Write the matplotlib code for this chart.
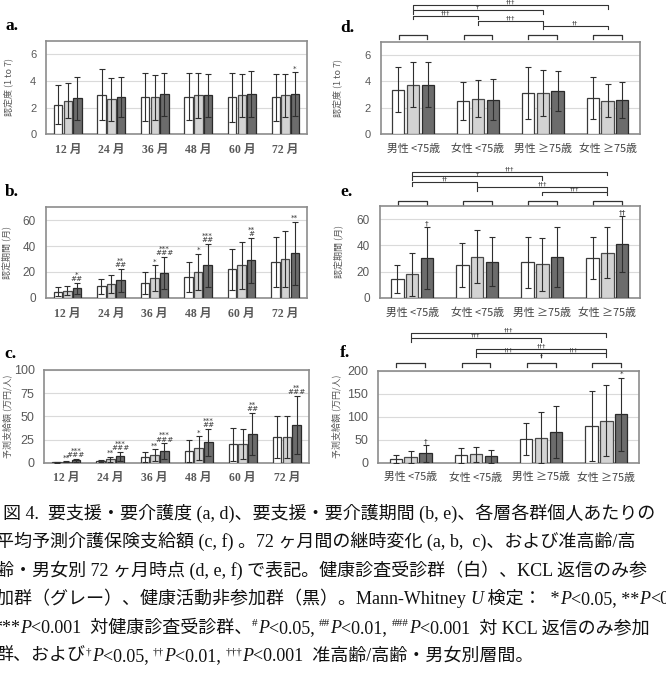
import numpy as np
import matplotlib
matplotlib.use("Agg")
import matplotlib.pyplot as plt

plt.rcParams['font.family'] = ['Noto Sans CJK JP', 'DejaVu Sans']

months = ["12 月", "24 月", "36 月", "48 月", "60 月", "72 月"]
strata = ["男性 <75歳", "女性 <75歳", "男性 ≥75歳", "女性 ≥75歳"]

# rows: 健診受診群 (白), KCL返信のみ (グレー), 健康活動非参加群 (黒)
a_mean = [[2.2, 2.95, 2.8, 2.8, 2.75, 2.75],
          [2.5, 2.6, 2.75, 2.9, 2.9, 2.9],
          [2.7, 2.8, 3.0, 2.9, 3.0, 3.0]]
a_sd = [[1.45, 1.9, 1.8, 1.75, 1.8, 1.75],
        [1.3, 1.6, 1.65, 1.7, 1.6, 1.6],
        [1.6, 1.5, 1.6, 1.6, 1.7, 1.65]]

b_mean = [[4.5, 8.9, 11.7, 16, 22, 27.8],
          [5.5, 10.5, 15, 20, 25, 30],
          [7.2, 13.5, 19.4, 25, 29, 34.5]]
b_sd = [[3.5, 5.8, 8.5, 11.6, 15.8, 19.5],
        [3.3, 7.2, 10, 14, 18, 22],
        [4.5, 8.7, 12.5, 16.6, 17.5, 24.5]]

c_mean = [[0.5, 2.0, 5.8, 12.6, 19.8, 27.3],
          [1.0, 3.5, 8.3, 15.8, 20.5, 27.3],
          [2.5, 7.0, 12.6, 22, 31, 40.6]]
c_sd = [[0.5, 1.0, 5.2, 12.4, 18, 22.7],
        [0.8, 3.0, 6.1, 13, 16, 22.7],
        [1.5, 5.0, 8.4, 14.7, 23, 31.7]]

d_mean = [[3.35, 2.5, 3.1, 2.75],
          [3.75, 2.7, 3.1, 2.55],
          [3.75, 2.6, 3.25, 2.6]]
d_sd = [[1.7, 1.45, 1.95, 1.6],
        [1.7, 1.4, 1.75, 1.25],
        [1.7, 1.55, 1.5, 1.35]]

e_mean = [[14.3, 25, 27, 30],
          [18, 31.4, 25.5, 34.2],
          [30.1, 27.6, 31, 41]]
e_sd = [[11, 16.6, 19.5, 16],
        [16.5, 20, 20, 19.5],
        [23.5, 18.8, 23, 21.6]]

f_mean = [[8.7, 16, 51.4, 79.7],
          [12.3, 18, 54.3, 91.3],
          [20, 13.8, 67.4, 105]]
f_sd = [[9, 16, 34, 77],
        [12.7, 17, 56, 77],
        [18, 14.5, 56.5, 80]]

# significance marks above single bars: (group, bar) -> text
a_marks = {(5, 2): "*"}
b_marks = {(0, 2): "*\n##", (1, 2): "**\n##", (2, 1): "*", (2, 2): "***\n###",
           (3, 1): "*", (3, 2): "***\n##", (4, 2): "**\n#", (5, 2): "**"}
c_marks = {(0, 1): "**", (0, 2): "***\n###", (1, 1): "**", (1, 2): "***\n###",
           (2, 1): "**", (2, 2): "***\n###", (3, 1): "*", (3, 2): "***\n##",
           (4, 2): "**\n##", (5, 2): "**\n###"}
d_marks = {}
e_marks = {(0, 2): "†", (3, 2): "††"}
f_marks = {(0, 2): "†", (3, 2): "*"}

# between-strata comparisons
d_pairs = [(0, 3, "†††"), (0, 2, "†"), (0, 1, "†††"), (1, 2, "†††"), (2, 3, "††")]
e_pairs = [(0, 3, "†††"), (0, 2, "†"), (0, 1, "††"), (1, 3, "†††"), (2, 3, "†††")]
f_pairs = [(0, 3, "†††"), (0, 2, "†††"), (1, 3, "†††"), (1, 2, "†††"), (2, 3, "†††")]

# caption, split in runs: n = normal, i = italic, s = superscript
caption = [
    [("図 4.  要支援・要介護度 (a, d)、要支援・要介護期間 (b, e)、各層各群個人あたりの", 'n')],
    [("平均予測介護保険支給額 (c, f) 。72 ヶ月間の継時変化 (a, b,  c)、および准高齢/高", 'n')],
    [("齢・男女別 72 ヶ月時点 (d, e, f) で表記。健康診査受診群（白）、KCL 返信のみ参", 'n')],
    [("加群（グレー）、健康活動非参加群（黒）。Mann-Whitney ", 'n'), ("U", 'i'),
     (" 検定：  *", 'n'), ("P", 'i'), ("<0.05, **", 'n'), ("P", 'i'), ("<0.01", 'n')],
    [("***", 'n'), ("P", 'i'), ("<0.001  対健康診査受診群、", 'n'), ("#", 's'), ("P", 'i'),
     ("<0.05, ", 'n'), ("##", 's'), ("P", 'i'), ("<0.01, ", 'n'), ("###", 's'), ("P", 'i'),
     ("<0.001  対 KCL 返信のみ参加", 'n')],
    [("群、および", 'n'), ("†", 's'), ("P", 'i'), ("<0.05, ", 'n'), ("††", 's'), ("P", 'i'),
     ("<0.01, ", 'n'), ("†††", 's'), ("P", 'i'), ("<0.001  准高齢/高齢・男女別層間。", 'n')],
]

fills = ['white', '#d3d3d3', '#6c6c6c']
edges = ['#3a3a3a', '#4a4a4a', '#2a2a2a']
serif_cjk = ['Liberation Serif', 'Noto Sans CJK JP']


def draw_bars(ax, labels, means, sds, marks, width, step, ymax, yticks, ylabel, lab_x, tick_fs):
    x = np.arange(len(labels))
    for k in range(3):
        pos = x + (k - 1) * step
        ax.bar(pos, means[k], width, color=fills[k], edgecolor=edges[k], linewidth=0.9, zorder=3)
        ax.errorbar(pos, means[k], yerr=sds[k], fmt='none', ecolor='#2e2e2e',
                    elinewidth=0.8, capsize=2, capthick=0.8, zorder=4)
    for (g, k), txt in marks.items():
        ax.annotate(txt, (x[g] + (k - 1) * step, means[k][g] + sds[k][g]),
                    xytext=(0, 0.5), textcoords='offset points', ha='center', va='bottom',
                    fontsize=5.2, linespacing=0.7, color='#333333', family='DejaVu Sans')
    ax.set_xlim(-0.5, len(labels) - 0.5)
    ax.set_ylim(0, ymax)
    ax.set_yticks(yticks)
    ax.set_xticks(x)
    ax.grid(axis='y', color='#dadada', lw=0.8, zorder=0)
    ax.set_axisbelow(True)
    ax.tick_params(length=0, pad=7)
    for lab in ax.get_yticklabels():
        lab.set_fontsize(tick_fs)
        lab.set_color('#595959')
        lab.set_family('Liberation Sans')
    for s in ax.spines.values():
        s.set_color('#8c8c8c')
        s.set_linewidth(1.2)
    ax.set_ylabel(ylabel, fontsize=6.5, color='#595959')
    ax.yaxis.set_label_coords(lab_x, 0.5)
    return x


def draw_brackets(ax, x, pairs, levels, group_level):
    tr = ax.get_xaxis_transform()
    for g in x:
        ax.plot([g - 0.22, g - 0.22, g + 0.22, g + 0.22],
                [group_level - 0.045, group_level, group_level, group_level - 0.045],
                transform=tr, color='#333333', lw=0.9, clip_on=False)
    for (i, j, lab), lv in zip(pairs, levels):
        ax.plot([x[i], x[i], x[j], x[j]], [lv - 0.04, lv, lv, lv - 0.04],
                transform=tr, color='#333333', lw=0.8, clip_on=False)
        ax.text((x[i] + x[j]) / 2, lv + 0.003, lab, transform=tr, ha='center', va='bottom',
                fontsize=4.5, color='#333333', family='DejaVu Sans')


fig = plt.figure(figsize=(6.66, 6.81), dpi=100)
W, H = 666, 681

ax_a = fig.add_axes([0.0691, 0.8028, 0.392, 0.1377])
ax_d = fig.add_axes([0.5716, 0.8028, 0.3893, 0.136])
ax_b = fig.add_axes([0.0686, 0.5628, 0.3923, 0.1327])
ax_e = fig.add_axes([0.5701, 0.5628, 0.3908, 0.1347])
ax_c = fig.add_axes([0.0665, 0.3206, 0.3974, 0.1361])
ax_f = fig.add_axes([0.5676, 0.3206, 0.3919, 0.1351])

draw_bars(ax_a, months, a_mean, a_sd, a_marks, 0.195, 0.22, 7, [0, 2, 4, 6], "認定度 (1 to 7)", -0.125, 8)
draw_bars(ax_b, months, b_mean, b_sd, b_marks, 0.195, 0.22, 70, [0, 20, 40, 60], "認定期間 (月)", -0.13, 8.5)
draw_bars(ax_c, months, c_mean, c_sd, c_marks, 0.195, 0.22, 100, [0, 25, 50, 75, 100], "予測支給額 (万円/人)", -0.12, 9)
xd = draw_bars(ax_d, strata, d_mean, d_sd, d_marks, 0.19, 0.228, 7, [0, 2, 4, 6], "認定度 (1 to 7)", -0.15, 8)
xe = draw_bars(ax_e, strata, e_mean, e_sd, e_marks, 0.19, 0.228, 70, [0, 20, 40, 60], "認定期間 (月)", -0.14, 8.5)
xf = draw_bars(ax_f, strata, f_mean, f_sd, f_marks, 0.19, 0.228, 200, [0, 50, 100, 150, 200], "予測支給額 (万円/人)", -0.142, 9)

for ax in [ax_a, ax_b, ax_c]:
    ax.set_xticklabels(months, family=serif_cjk, fontsize=8.5, color='#595959', fontweight='bold')
for ax in [ax_d, ax_e, ax_f]:
    ax.set_xticklabels(strata, fontsize=7.8, color='#404040')

draw_brackets(ax_d, xd, d_pairs, [1.396, 1.342, 1.281, 1.220, 1.173], 1.072)
draw_brackets(ax_e, xe, e_pairs, [1.373, 1.323, 1.258, 1.207, 1.156], 1.058)
draw_brackets(ax_f, xf, f_pairs, [1.407, 1.352, 1.233, 1.189, 1.189], 1.080)
ax_f.text(xf[2], 1.185, "†", transform=ax_f.get_xaxis_transform(), ha='center', va='top',
          fontsize=4.5, color='#333333', family='DejaVu Sans')

letters = [("a.", 5, 26), ("d.", 340, 28), ("b.", 5, 192), ("e.", 340, 192), ("c.", 4, 354), ("f.", 340, 353)]
for txt, px, py in letters:
    fig.text(px / W, 1 - py / H, txt, fontsize=12.5, fontweight='bold',
             family='Liberation Serif', ha='left', va='center')

# caption: runs are placed one after another on a shared baseline
renderer = fig.canvas.get_renderer()
cap_y = [519, 547, 576, 604, 633, 661]
cap_x = [3, -4, -4, -4, -7, -4]
cap_fs = 13


def run_props(style):
    if style == 'i':
        return dict(family='Liberation Serif', style='italic', fontsize=cap_fs)
    if style == 's':
        return dict(family=serif_cjk, fontsize=cap_fs * 0.62)
    return dict(family=serif_cjk, fontsize=cap_fs)


def run_width(s, props):
    t1 = fig.text(0, 0, "|" + s + "|", **props)
    t2 = fig.text(0, 0, "||", **props)
    w = t1.get_window_extent(renderer).width - t2.get_window_extent(renderer).width
    t1.remove()
    t2.remove()
    return w


for runs, px, py in zip(caption, cap_x, cap_y):
    xpos = px
    for s, style in runs:
        props = run_props(style)
        ypos = py - 7 if style == 's' else py
        fig.text(xpos / W, 1 - ypos / H, s, ha='left', va='baseline', color='#111111', **props)
        xpos += run_width(s, props)

fig.savefig("out.png", dpi=100)
